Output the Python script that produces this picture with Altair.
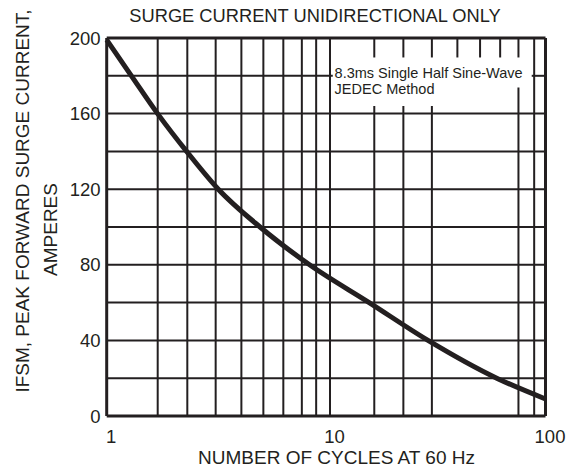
import altair as alt
import pandas as pd

# ---- data ----
curve_x = [1, 1.29, 1.69, 2.28, 3.16, 4.86, 8.1, 15.2, 28.5, 59.4, 100]
curve_y = [199, 180, 160, 140, 120, 100, 80, 60, 40, 20, 9]

x_ticks = [1, 10, 100]
y_ticks = [0, 40, 80, 120, 160, 200]

vgrid_full_x = [1.692, 2.296, 3.076, 4.01, 5.03, 6.18, 7.48, 8.67, 10, 88.6]
vgrid_split_x = [16.05, 21.9, 29.7]      # interrupted by the note
vgrid_short_x = [39.0, 49.7, 61.6]       # only in the top band
vgrid_part_x = [74.9]                    # interrupted by first note line
hgrid_y = [20, 40, 60, 80, 100, 120, 140, 160]
hgrid_split_y = [180]
note_gap_x = [10.3, 86.3]
note_gap_y = [164, 189.7]
note_gap_y_part = [173.8, 189.7]
frame_x = [1, 100]
frame_y = [0, 200]

note_lines = ["8.3ms Single Half Sine-Wave", "JEDEC Method"]
note_x = [10.5, 10.5]
note_y = [180.7, 172.7]

title_lines = ["FIG. 1 - MAXIMUM NON-REPETITIVE FORWARD", "SURGE CURRENT UNIDIRECTIONAL ONLY"]
ytitle_lines = ["IFSM, PEAK FORWARD SURGE CURRENT,", "AMPERES"]
xtitle = "NUMBER OF CYCLES AT 60 Hz"

INK = "#231f20"
FONT = "Liberation Sans"

# ---- build tables ----
curve = pd.DataFrame({"x": curve_x, "y": curve_y})

segs = []
ymin, ymax = frame_y
xmin, xmax = frame_x
for v in vgrid_full_x:
    segs.append((v, v, ymin, ymax))
for v in vgrid_split_x:
    segs.append((v, v, ymin, note_gap_y[0]))
    segs.append((v, v, note_gap_y[1], ymax))
for v in vgrid_short_x:
    segs.append((v, v, note_gap_y[1], ymax))
for v in vgrid_part_x:
    segs.append((v, v, ymin, note_gap_y_part[0]))
    segs.append((v, v, note_gap_y_part[1], ymax))
for h in hgrid_y:
    segs.append((xmin, xmax, h, h))
for h in hgrid_split_y:
    segs.append((xmin, note_gap_x[0], h, h))
    segs.append((note_gap_x[1], xmax, h, h))
grid = pd.DataFrame(segs, columns=["x", "x2", "y", "y2"])

frame = pd.DataFrame(
    [(xmin, xmin, ymin, ymax), (xmax, xmax, ymin, ymax),
     (xmin, xmax, ymin, ymin), (xmin, xmax, ymax, ymax)],
    columns=["x", "x2", "y", "y2"])

notes = pd.DataFrame({"t": note_lines, "x": note_x, "y": note_y})

xscale = alt.Scale(type="log", domain=[1, 10, 100], range=[0, 223.3, 438.8])
yscale = alt.Scale(domain=[0, 200], nice=False, zero=False)

xaxis = alt.Axis(
    values=x_ticks, format="~g", grid=False, ticks=False, tickSize=0,
    domain=False, labelFont=FONT, labelFontSize=18.5, labelColor=INK,
    labelBaseline="alphabetic", labelPadding=26, labelOffset=4,
    labelFlush=False,
    title=xtitle, titleFont=FONT, titleFontSize=19, titleFontWeight="normal",
    titleColor=INK, titleX=229.3, titleY=47.5, titleBaseline="alphabetic",
    titleAlign="center")
yaxis = alt.Axis(
    values=y_ticks, grid=False, ticks=False, tickSize=0, domain=False,
    labelFont=FONT, labelFontSize=18.5, labelColor=INK, labelPadding=6.7,
    labelFlush=False, title=None)

X = lambda: alt.X("x:Q", scale=xscale, axis=xaxis)
Y = lambda: alt.Y("y:Q", scale=yscale, axis=yaxis)

grid_layer = alt.Chart(grid).mark_rule(color=INK, strokeWidth=2).encode(
    x=X(), x2="x2:Q", y=Y(), y2="y2:Q")

frame_layer = alt.Chart(frame).mark_rule(color=INK, strokeWidth=3).encode(
    x=X(), x2="x2:Q", y=Y(), y2="y2:Q")

curve_layer = alt.Chart(curve).mark_line(
    color=INK, strokeWidth=5, interpolate="monotone"
).encode(x=X(), y=Y())

note_layer = alt.Chart(notes).mark_text(
    align="left", baseline="middle", font=FONT, fontSize=14.5, color=INK
).encode(x=X(), y=Y(), text="t:N")

def fixed_text(txt, px, py, angle=0, size=19):
    kw = dict(align="center", font=FONT, fontSize=size, color=INK)
    if angle:
        kw["angle"] = angle
        kw["baseline"] = "middle"
    else:
        kw["baseline"] = "alphabetic"
    return alt.Chart(pd.DataFrame({"t": [txt]})).mark_text(**kw).encode(
        x=alt.value(px), y=alt.value(py), text="t:N")

yt1 = fixed_text(ytitle_lines[0], -83.5, 163, angle=270)
yt2 = fixed_text(ytitle_lines[1], -56, 191.5, angle=270)
tt1 = fixed_text(title_lines[0], 201.3, -35, size=18.3)
tt2 = fixed_text(title_lines[1], 208.3, -16.5, size=18.3)

chart = alt.layer(
    curve_layer, grid_layer, frame_layer, note_layer, yt1, yt2, tt1, tt2
).properties(
    width=438.8,
    height=378,
    autosize="none",
    padding={"left": 98.7, "top": 30, "right": 23.5, "bottom": 49},
).configure_view(stroke=None)

chart.save("out.html", embed_options={"renderer": "svg", "actions": False})
